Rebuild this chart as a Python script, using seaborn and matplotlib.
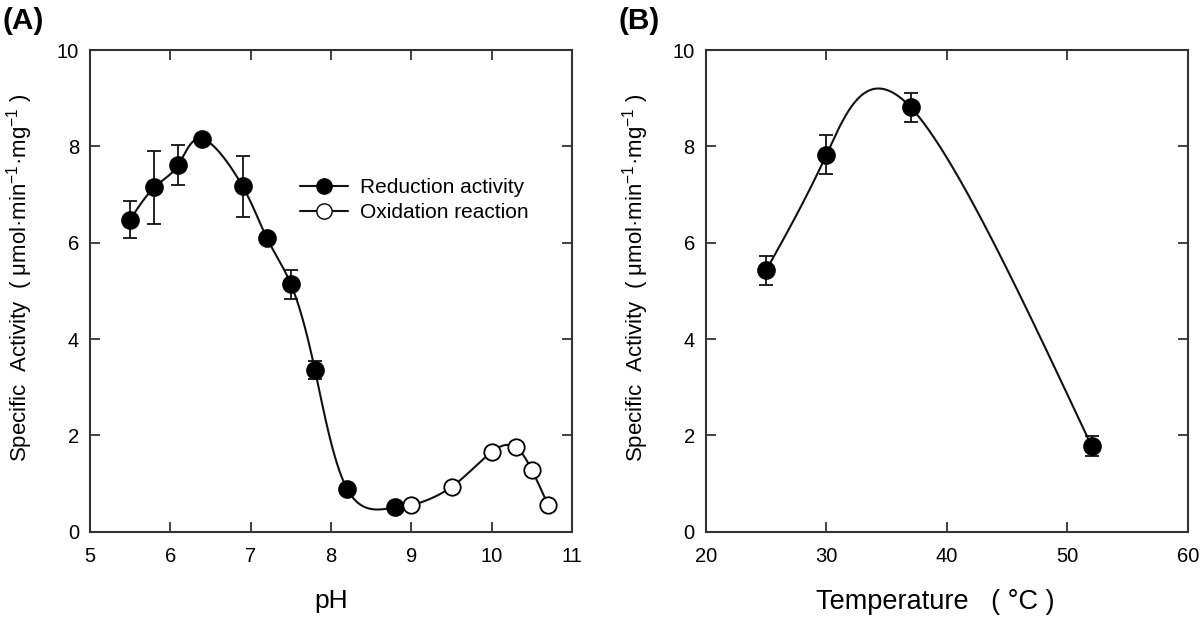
import numpy as np
import pandas as pd
import matplotlib
matplotlib.use("Agg")
import matplotlib.pyplot as plt
import seaborn as sns

# ---- data ----
ph_red = [5.5, 5.8, 6.1, 6.4, 6.9, 7.2, 7.5, 7.8, 8.2, 8.8]
act_red = [6.48, 7.15, 7.62, 8.16, 7.17, 6.10, 5.14, 3.36, 0.89, 0.51]
err_red = [0.38, 0.75, 0.42, 0.06, 0.63, 0.06, 0.30, 0.19, 0.05, 0.04]

ph_ox = [9.0, 9.5, 10.0, 10.3, 10.5, 10.7]
act_ox = [0.55, 0.93, 1.66, 1.75, 1.28, 0.56]
err_ox = [0.03, 0.04, 0.05, 0.08, 0.05, 0.03]

temp = [25, 30, 37, 52]
act_t = [5.43, 7.83, 8.81, 1.78]
err_t = [0.30, 0.40, 0.30, 0.20]

xticks_a = [5, 6, 7, 8, 9, 10, 11]
xticks_b = [20, 30, 40, 50, 60]
yticks = [0, 2, 4, 6, 8, 10]


def _nat(t, y, ts):
    k = len(t)
    h = np.diff(t)
    A = np.zeros((k, k))
    b = np.zeros(k)
    A[0, 0] = A[-1, -1] = 1
    for i in range(1, k - 1):
        A[i, i - 1] = h[i - 1]
        A[i, i] = 2 * (h[i - 1] + h[i])
        A[i, i + 1] = h[i]
        b[i] = 3 * ((y[i + 1] - y[i]) / h[i] - (y[i] - y[i - 1]) / h[i - 1])
    c = np.linalg.solve(A, b)
    idx = np.clip(np.searchsorted(t, ts) - 1, 0, k - 2)
    dx = ts - t[idx]
    bb = (y[1:] - y[:-1]) / h - h * (2 * c[:-1] + c[1:]) / 3
    d = (c[1:] - c[:-1]) / (3 * h)
    return y[idx] + bb[idx] * dx + c[idx] * dx ** 2 + d[idx] * dx ** 3


def param_spline(x, y, n=600):
    """Parametric natural cubic spline with uniform parameterisation."""
    x = np.asarray(x, float)
    y = np.asarray(y, float)
    t = np.arange(len(x), dtype=float)
    ts = np.linspace(0, t[-1], n)
    return _nat(t, x, ts), _nat(t, y, ts)


sns.set_style("ticks")
plt.rcParams['font.family'] = ['Liberation Sans', 'DejaVu Sans']
plt.rcParams['text.color'] = 'black'
plt.rcParams['axes.labelcolor'] = 'black'
plt.rcParams['mathtext.fontset'] = 'custom'
plt.rcParams['mathtext.rm'] = 'Liberation Sans'
plt.rcParams['mathtext.it'] = 'Liberation Sans'

fig = plt.figure(figsize=(12, 6.19), dpi=100)
axA = fig.add_axes([0.075, 0.141, 0.4017, 0.778])
axB = fig.add_axes([0.5883, 0.141, 0.4017, 0.778])

lc = '#111111'
ylab = 'Specific  Activity  ( μmol·min$^{-1}$·mg$^{-1}$ )'

# ---- Panel A ----
xs, ys = param_spline(ph_red, act_red)
sns.lineplot(x=xs, y=ys, ax=axA, color=lc, lw=1.5, sort=False, zorder=2)
xs, ys = param_spline([ph_red[-1]] + ph_ox, [act_red[-1]] + act_ox)
sns.lineplot(x=xs, y=ys, ax=axA, color=lc, lw=1.5, sort=False, zorder=2)
axA.errorbar(ph_red, act_red, yerr=err_red, fmt='none', ecolor=lc,
             elinewidth=1.3, capsize=5, capthick=1.3, zorder=3)
axA.errorbar(ph_ox, act_ox, yerr=err_ox, fmt='none', ecolor=lc,
             elinewidth=1.3, capsize=5, capthick=1.3, zorder=3)
sns.scatterplot(x=ph_red, y=act_red, ax=axA, s=150, color='black',
                edgecolor='black', linewidth=1.2, zorder=4)
sns.scatterplot(x=ph_ox, y=act_ox, ax=axA, s=140, color='white',
                edgecolor='black', linewidth=1.3, zorder=4)

axA.plot([], [], color=lc, lw=1.5, marker='o', ms=11, mfc='black',
         mec='black', label='Reduction activity')
axA.plot([], [], color=lc, lw=1.5, marker='o', ms=11, mfc='white',
         mec='black', label='Oxidation reaction')
axA.legend(loc='upper left', bbox_to_anchor=(0.435, 0.734), frameon=False,
           fontsize=15, handlelength=2.3, handletextpad=0.6,
           labelspacing=0.3, borderaxespad=0, borderpad=0)

axA.set_xlim(5, 11)
axA.set_xticks(xticks_a)
axA.set_xlabel('pH', fontsize=19)
axA.xaxis.set_label_coords(0.5, -0.118)

# ---- Panel B ----
xs, ys = param_spline(temp, act_t)
sns.lineplot(x=xs, y=ys, ax=axB, color=lc, lw=1.5, sort=False, zorder=2)
axB.errorbar(temp, act_t, yerr=err_t, fmt='none', ecolor=lc,
             elinewidth=1.3, capsize=5, capthick=1.3, zorder=3)
sns.scatterplot(x=temp, y=act_t, ax=axB, s=150, color='black',
                edgecolor='black', linewidth=1.2, zorder=4)
axB.set_xlim(20, 60)
axB.set_xticks(xticks_b)
axB.set_xlabel('Temperature   ( °C )', fontsize=19.5)
axB.xaxis.set_label_coords(0.475, -0.118)

for ax, lab in ((axA, '(A)'), (axB, '(B)')):
    ax.set_ylim(0, 10)
    ax.set_yticks(yticks)
    ax.set_ylabel(ylab, fontsize=16)
    ax.yaxis.set_label_coords(-0.114, 0.528)
    ax.tick_params(direction='in', length=7, width=1.2, top=True, right=True,
                   labelsize=14.5, colors='#222222', labelcolor='black')
    ax.tick_params(axis='x', pad=11)
    ax.tick_params(axis='y', pad=8)
    for s in ax.spines.values():
        s.set_linewidth(1.5)
        s.set_color('#333333')
    ax.text(-0.182, 1.09, lab, transform=ax.transAxes, fontsize=21.5,
            fontweight='bold', va='top', ha='left')

fig.savefig('out.png', dpi=100)
